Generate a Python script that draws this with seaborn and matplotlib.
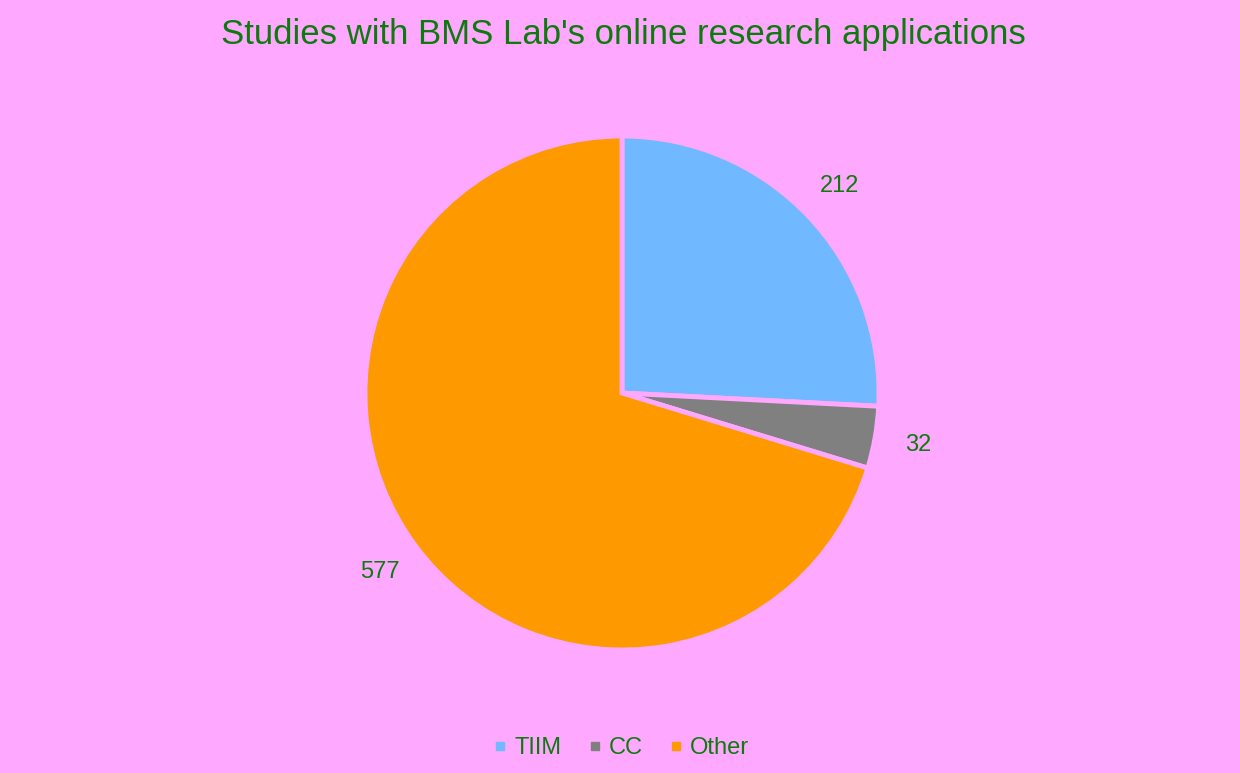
import matplotlib.pyplot as plt
import seaborn as sns
from matplotlib.lines import Line2D

categories = ["TIIM", "CC", "Other"]
counts = [212, 32, 577]
colors = ["#70B8FF", "#808080", "#FF9900"]

BG = "#FFA8FF"
TEXT = "#0E7A0E"

sns.set_theme(style="white")
plt.rcParams["font.family"] = ["Liberation Sans", "DejaVu Sans"]

fig = plt.figure(figsize=(12.4, 7.73), dpi=100, facecolor=BG)

# pie axes placed so the disc centre sits at (622, 393) px, radius ~257 px
r_px = 257
ax = fig.add_axes([(622 - r_px) / 1240, (773 - 393 - r_px) / 773,
                   2 * r_px / 1240, 2 * r_px / 773])
ax.set_facecolor(BG)

wedges, texts = ax.pie(
    counts,
    labels=[str(c) for c in counts],
    colors=sns.color_palette(colors),
    startangle=90,
    counterclock=False,
    labeldistance=1.17,
    radius=1,
    wedgeprops={"edgecolor": BG, "linewidth": 3.5},
    textprops={"color": TEXT, "fontsize": 17},
)
for t in texts:
    t.set_ha("center")
    t.set_va("center")
ax.set_xlim(-1, 1)
ax.set_ylim(-1, 1)
ax.set_aspect("equal")
ax.axis("off")

fig.text(0.503, 0.955, "Studies with BMS Lab's online research applications",
         ha="center", va="center", color=TEXT, fontsize=25)

handles = [Line2D([], [], marker="s", linestyle="", markersize=6,
                  markerfacecolor=c, markeredgecolor=c) for c in colors]
fig.legend(handles, categories, loc="center", bbox_to_anchor=(0.5, 0.032),
           ncol=3, frameon=False, fontsize=17, labelcolor=TEXT,
           handletextpad=0.2, columnspacing=1.0, handlelength=0.8)

fig.savefig("out.png", dpi=100, facecolor=BG)
